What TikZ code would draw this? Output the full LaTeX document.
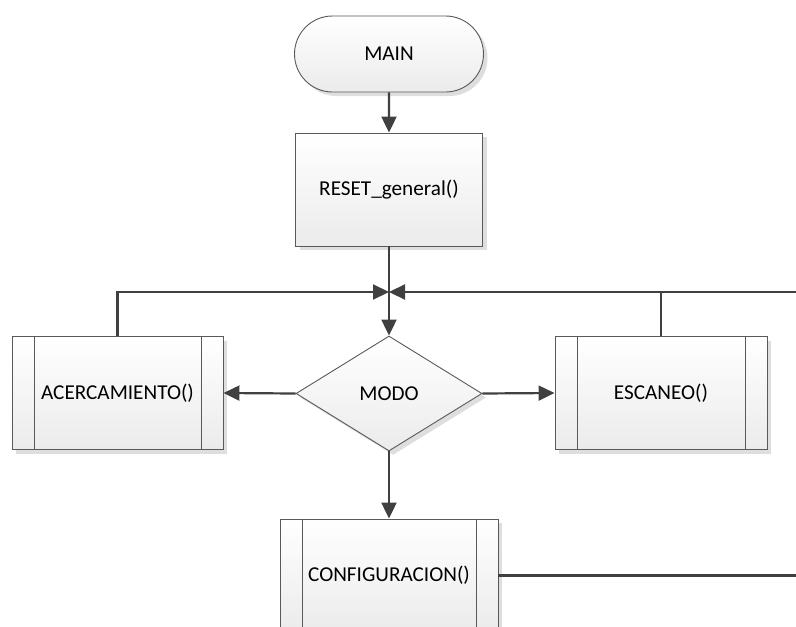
\documentclass[tikz,border=0pt]{standalone}
\usepackage{fontspec}
\setmainfont{Carlito}
\usetikzlibrary{shapes.geometric,shapes.misc,arrows.meta,shadows}
\definecolor{linegray}{HTML}{404040}
\definecolor{edgegray}{HTML}{595959}
\definecolor{boxgray}{HTML}{EBEBEB}

\begin{document}
\begin{tikzpicture}[x=1pt,y=-1pt,
    shape base/.style={draw=edgegray, line width=0.9pt, top color=white, bottom color=boxgray, inner sep=0pt,
        drop shadow={shadow xshift=4pt,shadow yshift=-4pt,fill=black!13,opacity=1},
        font=\fontsize{21.2}{25}\selectfont},
    term/.style={shape base, rounded rectangle, minimum width=189pt, minimum height=76pt},
    procbox/.style={shape base, rectangle, minimum width=187pt, minimum height=113pt},
    subproc/.style={shape base, rectangle, minimum height=113pt,
        path picture={\draw[edgegray, line width=0.9pt] ([xshift=22pt]path picture bounding box.north west) -- ([xshift=22pt]path picture bounding box.south west);
                      \draw[edgegray, line width=0.9pt] ([xshift=-22pt]path picture bounding box.north east) -- ([xshift=-22pt]path picture bounding box.south east);}},
    decision/.style={shape base, diamond, minimum width=186pt, minimum height=115pt},
    conn/.style={color=linegray, line width=2.2pt},
    flow/.style={conn, -{Triangle[length=16pt,width=15pt]}}]
    \clip (0,0) rectangle (796,627);
    \useasboundingbox (0,0) rectangle (796,627);

    \node[term] (main) at (389,54) {MAIN};
    \node[procbox] (reset) at (389,189.5) {RESET\_general()};
    \node[decision] (modo) at (389,393.5) {MODO};
    \node[subproc, minimum width=211pt] (acerc) at (117.5,393) {ACERCAMIENTO()};
    \node[subproc, minimum width=212pt] (escaneo) at (661,393) {ESCANEO()};
    \node[subproc, minimum width=218pt] (config) at (389,575.5) {CONFIGURACION()};

    \coordinate (junc) at (389,292);
    \coordinate (loopin) at (800,292);
    \coordinate (loopout) at (800,575.5);

    \draw[flow] (main) -- (reset);
    \draw[conn] (reset) -- (junc); \draw[flow] (junc) -- (modo);
    \draw[flow] (acerc.north) |- (junc); \draw[flow] (loopin) -- (junc);
    \draw[conn] (escaneo.north) -- (escaneo.north |- junc);
    \draw[flow] (modo.west) -- (acerc.east); \draw[flow] (modo.east) -- (escaneo.west);
    \draw[flow] (modo) -- (config);
    \draw[conn] (config.east) -- (loopout);
\end{tikzpicture}
\end{document}
